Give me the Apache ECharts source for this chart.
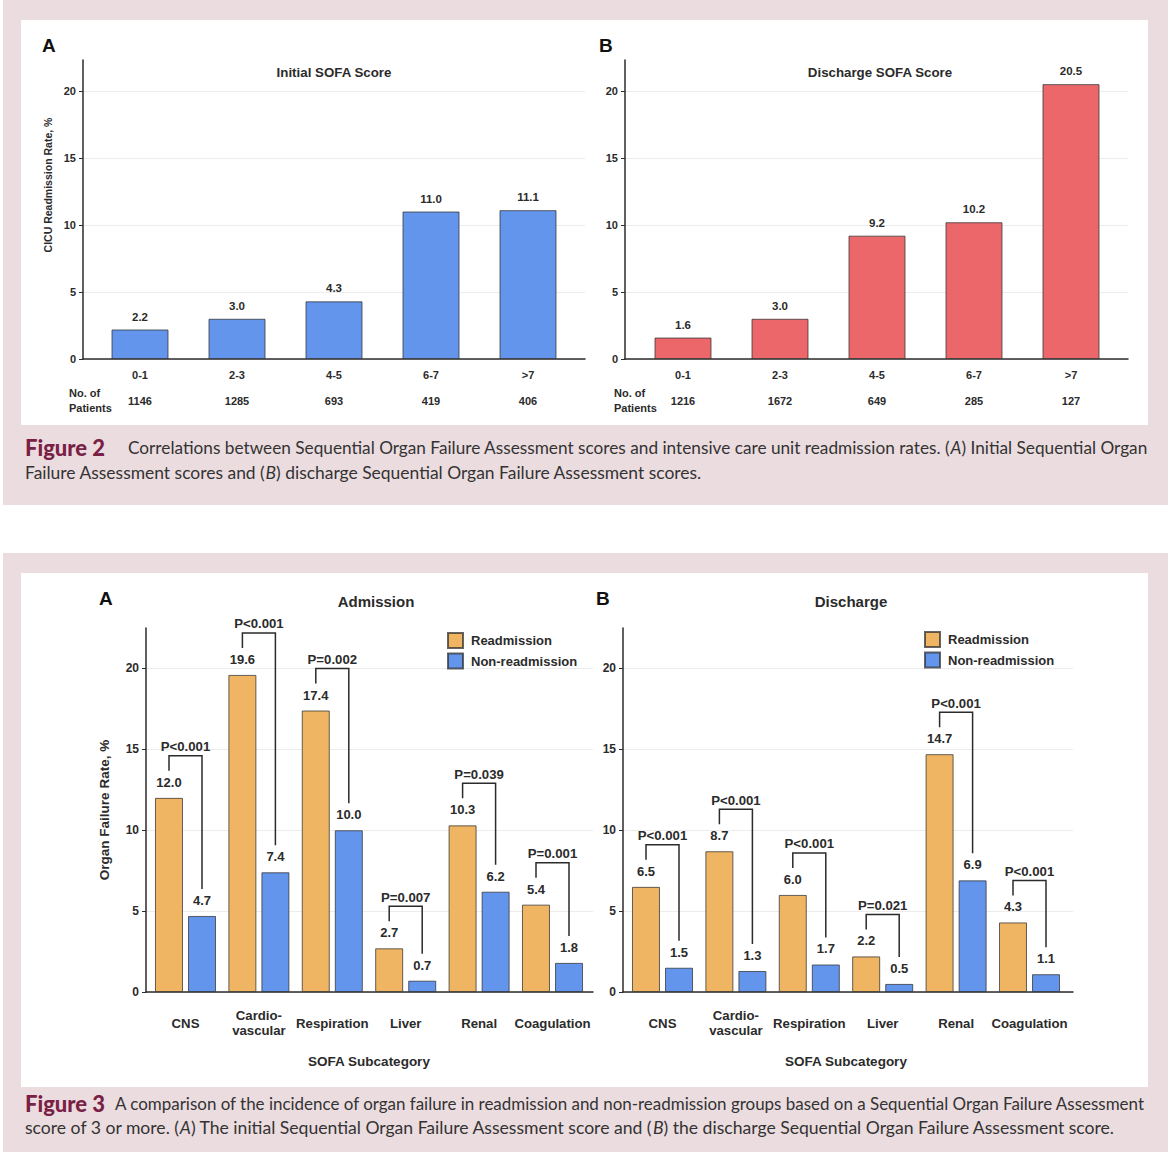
<!DOCTYPE html>
<html><head><meta charset="utf-8">
<script src="https://cdn.jsdelivr.net/npm/echarts@6/dist/echarts.min.js"></script>
<style>html,body{margin:0;padding:0;background:#fff}#c{width:1170px;height:1152px}</style>
</head><body><div id="c"></div>
<script>
// ---- data ----
const sofaCats = ['0-1', '2-3', '4-5', '6-7', '>7'];
const initialRate = [2.2, 3.0, 4.3, 11.0, 11.1];
const initialPatients = ['1146', '1285', '693', '419', '406'];
const dischargeRate = [1.6, 3.0, 9.2, 10.2, 20.5];
const dischargePatients = ['1216', '1672', '649', '285', '127'];
const organCats = ['CNS', 'Cardio-\nvascular', 'Respiration', 'Liver', 'Renal', 'Coagulation'];
const admReadm = [12.0, 19.6, 17.4, 2.7, 10.3, 5.4];
const admNonReadm = [4.7, 7.4, 10.0, 0.7, 6.2, 1.8];
const admP = ['P<0.001', 'P<0.001', 'P=0.002', 'P=0.007', 'P=0.039', 'P=0.001'];
const disReadm = [6.5, 8.7, 6.0, 2.2, 14.7, 4.3];
const disNonReadm = [1.5, 1.3, 1.7, 0.5, 6.9, 1.1];
const disP = ['P<0.001', 'P<0.001', 'P<0.001', 'P=0.021', 'P<0.001', 'P<0.001'];
const yTicks = [0, 5, 10, 15, 20];

// ---- styles ----
const F = '"Liberation Sans", Arial, sans-serif';
const CAP = 'Lato, "Open Sans", sans-serif';
const INK = '#2b2b2b';
const BLUE = '#6495ED', RED = '#EB6769', ORANGE = '#EFB562';
const PINK = '#ebdcdf', MAROON = '#7a1f45';
const CAPSIZE = 17.5;

const chart = echarts.init(document.getElementById('c'), null, {renderer: 'svg'});

const mctx = document.createElement('canvas').getContext('2d');
function measure(str, font) { mctx.font = font; return mctx.measureText(str).width; }

function frameX(gi) {
  return {gridIndex: gi, type: 'value', min: 0, max: 1,
    axisLine: {show: true, lineStyle: {color: INK, width: 1.5}},
    axisTick: {show: false}, axisLabel: {show: false}, splitLine: {show: false}};
}
function frameY(gi, max, fs, name, gap, nameFs) {
  return {gridIndex: gi, type: 'value', min: 0, max: max,
    name: name || '', nameLocation: 'middle', nameGap: gap || 30,
    nameTextStyle: {fontFamily: F, fontWeight: 'bold', fontSize: nameFs || fs, color: INK},
    axisLine: {show: true, lineStyle: {color: INK, width: 1.5}},
    axisTick: {show: true, length: 4, customValues: yTicks, lineStyle: {color: INK, width: 1}},
    axisLabel: {customValues: yTicks, margin: 7, fontFamily: F, fontWeight: 'bold', fontSize: fs, color: INK},
    splitLine: {show: true, lineStyle: {color: '#ececec', width: 1}}};
}
function hiddenY(gi, max) {
  return {gridIndex: gi, type: 'value', min: 0, max: max, show: false};
}
function catX(gi, data, opts) {
  return Object.assign({gridIndex: gi, type: 'category', data: data,
    axisLine: {show: false}, axisTick: {show: false}, splitLine: {show: false}}, opts);
}

function bracketSeries(xi, yi, readm, non, ptxt) {
  return {
    type: 'custom', xAxisIndex: xi, yAxisIndex: yi, silent: true, z: 5,
    data: readm.map((v, i) => [i, v, non[i]]),
    renderItem: function (params, api) {
      const i = api.value(0);
      const a = api.coord([i, api.value(1)]);
      const b = api.coord([i, api.value(2)]);
      const off = 16.5;
      const xl = a[0] - off, xr = a[0] + off;
      const yb = a[1] - 42;
      return {type: 'group', children: [
        {type: 'polyline', shape: {points: [[xl, a[1] - 27], [xl, yb], [xr, yb], [xr, b[1] - 27]]},
          style: {stroke: INK, lineWidth: 1.5, fill: null}},
        {type: 'text', x: a[0], y: yb - 9,
          style: {text: ptxt[i], align: 'center', verticalAlign: 'middle',
            fontFamily: F, fontWeight: 'bold', fontSize: 13.2, fill: INK}}
      ]};
    }
  };
}

const barBorder = {borderColor: 'rgba(50,50,50,0.75)', borderWidth: 1};
const topLabel = {show: true, position: 'top', distance: 7, fontFamily: F, fontWeight: 'bold', fontSize: 11.5, color: INK,
  formatter: p => p.value.toFixed(1)};
const botLabel = {show: true, position: 'top', distance: 9, fontFamily: F, fontWeight: 'bold', fontSize: 13, color: INK,
  formatter: p => p.value.toFixed(1)};
const organLabel = {interval: 0, margin: 31, verticalAlign: 'middle', lineHeight: 15,
  fontFamily: F, fontWeight: 'bold', fontSize: 13.2, color: INK};
const sofaLabel = {interval: 0, margin: 10, fontFamily: F, fontWeight: 'bold', fontSize: 11, color: INK};

const TOPMAX = 22.3, BOTMAX = 22.5;

function txt(x, y, text, font, color, align, extra) {
  return Object.assign({type: 'text', x: x, y: y, z: 10,
    style: {text: text, font: font, fill: color || INK, align: align || 'left', verticalAlign: 'middle'}}, extra || {});
}
// caption line fitted between x0 and x1
function capText(x0, x1, y, plain, richStr) {
  const font = CAPSIZE + 'px Lato';
  const w = measure(plain, font);
  return {type: 'text', x: x0, y: y, z: 10, scaleX: (x1 - x0) / w,
    style: {text: richStr, fontFamily: CAP, fontSize: CAPSIZE, fill: '#333', verticalAlign: 'middle', align: 'left',
      rich: {i: {fontFamily: CAP, fontSize: CAPSIZE, fontStyle: 'italic', fill: '#333'}}}};
}
function figLabel(x, y, text) {
  return {type: 'text', x: x, y: y, z: 10,
    style: {text: text, fontFamily: CAP, fontSize: 22, fontWeight: 900, fill: MAROON, verticalAlign: 'middle', align: 'left'}};
}

const option = {
  animation: false,
  backgroundColor: '#ffffff',
  grid: [
    {left: 83, top: 60, width: 502, height: 299},
    {left: 91.5, top: 60, width: 485, height: 299},
    {left: 625, top: 60, width: 503, height: 299},
    {left: 634.5, top: 60, width: 485, height: 299},
    {left: 146, top: 628, width: 447, height: 364},
    {left: 148.8, top: 628, width: 440.4, height: 364},
    {left: 623, top: 628, width: 450, height: 364},
    {left: 625.8, top: 628, width: 440.4, height: 364}
  ],
  xAxis: [
    frameX(0),
    catX(1, sofaCats, {axisLabel: sofaLabel}),
    catX(1, initialPatients, {position: 'bottom', offset: 26, axisLabel: sofaLabel}),
    frameX(2),
    catX(3, sofaCats, {axisLabel: sofaLabel}),
    catX(3, dischargePatients, {position: 'bottom', offset: 26, axisLabel: sofaLabel}),
    frameX(4),
    catX(5, organCats, {name: 'SOFA Subcategory', nameLocation: 'middle', nameGap: 62,
      nameTextStyle: {fontFamily: F, fontWeight: 'bold', fontSize: 13.5, color: INK}, axisLabel: organLabel}),
    frameX(6),
    catX(7, organCats, {name: 'SOFA Subcategory', nameLocation: 'middle', nameGap: 62,
      nameTextStyle: {fontFamily: F, fontWeight: 'bold', fontSize: 13.5, color: INK}, axisLabel: organLabel})
  ],
  yAxis: [
    frameY(0, TOPMAX, 11),
    hiddenY(1, TOPMAX),
    frameY(2, TOPMAX, 11),
    hiddenY(3, TOPMAX),
    frameY(4, BOTMAX, 12, 'Organ Failure Rate, %', 35, 13.5),
    hiddenY(5, BOTMAX),
    frameY(6, BOTMAX, 12),
    hiddenY(7, BOTMAX)
  ],
  legend: [
    {left: 447, top: 632, padding: 0, orient: 'vertical', itemWidth: 15, itemHeight: 15, itemGap: 3.5, icon: 'rect',
      data: ['Readmission', 'Non-readmission'], selectedMode: false,
      textStyle: {fontFamily: F, fontWeight: 'bold', fontSize: 13, lineHeight: 15, color: INK, padding: [0, 0, 0, 3]}},
    {left: 924, top: 631, padding: 0, orient: 'vertical', itemWidth: 15, itemHeight: 15, itemGap: 3.5, icon: 'rect',
      data: ['Readmission', 'Non-readmission'], selectedMode: false,
      textStyle: {fontFamily: F, fontWeight: 'bold', fontSize: 13, lineHeight: 15, color: INK, padding: [0, 0, 0, 3]}}
  ],
  series: [
    {type: 'bar', name: 'Initial SOFA', xAxisIndex: 1, yAxisIndex: 1, data: initialRate, barWidth: 57,
      itemStyle: Object.assign({color: BLUE}, barBorder), label: topLabel},
    {type: 'bar', name: 'Discharge SOFA', xAxisIndex: 4, yAxisIndex: 3, data: dischargeRate, barWidth: 57,
      itemStyle: Object.assign({color: RED}, barBorder), label: topLabel},
    {type: 'bar', name: 'Readmission', xAxisIndex: 7, yAxisIndex: 5, data: admReadm, barWidth: 28, barGap: '18%',
      itemStyle: Object.assign({color: ORANGE}, barBorder), label: botLabel},
    {type: 'bar', name: 'Non-readmission', xAxisIndex: 7, yAxisIndex: 5, data: admNonReadm, barWidth: 28, barGap: '18%',
      itemStyle: Object.assign({color: BLUE}, barBorder), label: botLabel},
    {type: 'bar', name: 'Readmission', xAxisIndex: 9, yAxisIndex: 7, data: disReadm, barWidth: 28, barGap: '18%',
      itemStyle: Object.assign({color: ORANGE}, barBorder), label: botLabel},
    {type: 'bar', name: 'Non-readmission', xAxisIndex: 9, yAxisIndex: 7, data: disNonReadm, barWidth: 28, barGap: '18%',
      itemStyle: Object.assign({color: BLUE}, barBorder), label: botLabel},
    bracketSeries(7, 5, admReadm, admNonReadm, admP),
    bracketSeries(9, 7, disReadm, disNonReadm, disP)
  ],
  graphic: [
    {type: 'rect', z: -10, shape: {x: 3, y: 0, width: 1165, height: 505}, style: {fill: PINK}},
    {type: 'rect', z: -9, shape: {x: 21, y: 20, width: 1127, height: 405}, style: {fill: '#fff'}},
    {type: 'rect', z: -10, shape: {x: 3, y: 553, width: 1165, height: 599}, style: {fill: PINK}},
    {type: 'rect', z: -9, shape: {x: 21, y: 573, width: 1127, height: 514}, style: {fill: '#fff'}},
    txt(42, 45, 'A', 'bold 19px ' + F, '#111'),
    txt(599, 45, 'B', 'bold 19px ' + F, '#111'),
    txt(48, 185, 'CICU Readmission Rate, %', 'bold 10.5px ' + F, INK, 'center', {rotation: Math.PI / 2}),
    txt(334, 72, 'Initial SOFA Score', 'bold 13.3px ' + F, INK, 'center'),
    txt(880, 72, 'Discharge SOFA Score', 'bold 13.3px ' + F, INK, 'center'),
    txt(69, 393, 'No. of', 'bold 11px ' + F, INK),
    txt(69, 407.5, 'Patients', 'bold 11px ' + F, INK),
    txt(614, 393, 'No. of', 'bold 11px ' + F, INK),
    txt(614, 407.5, 'Patients', 'bold 11px ' + F, INK),
    txt(99, 598, 'A', 'bold 19px ' + F, '#111'),
    txt(596, 598, 'B', 'bold 19px ' + F, '#111'),
    txt(376, 601, 'Admission', 'bold 15px ' + F, INK, 'center'),
    txt(851, 601, 'Discharge', 'bold 15px ' + F, INK, 'center'),
    figLabel(25, 447, 'Figure 2'),
    capText(128, 1148, 447,
      'Correlations between Sequential Organ Failure Assessment scores and intensive care unit readmission rates. (A) Initial Sequential Organ',
      'Correlations between Sequential Organ Failure Assessment scores and intensive care unit readmission rates. ({i|A}) Initial Sequential Organ'),
    capText(25, 703, 472,
      'Failure Assessment scores and (B) discharge Sequential Organ Failure Assessment scores.',
      'Failure Assessment scores and ({i|B}) discharge Sequential Organ Failure Assessment scores.'),
    figLabel(25, 1103, 'Figure 3'),
    capText(115, 1147, 1103,
      'A comparison of the incidence of organ failure in readmission and non-readmission groups based on a Sequential Organ Failure Assessment',
      'A comparison of the incidence of organ failure in readmission and non-readmission groups based on a Sequential Organ Failure Assessment'),
    capText(25, 1117, 1128,
      'score of 3 or more. (A) The initial Sequential Organ Failure Assessment score and (B) the discharge Sequential Organ Failure Assessment score.',
      'score of 3 or more. ({i|A}) The initial Sequential Organ Failure Assessment score and ({i|B}) the discharge Sequential Organ Failure Assessment score.')
  ]
};
chart.setOption(option);
</script></body></html>
